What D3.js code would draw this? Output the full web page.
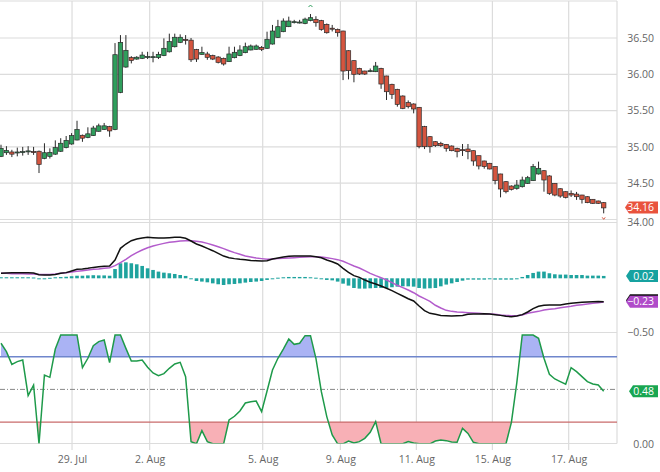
<!DOCTYPE html>
<html><head><meta charset="utf-8">
<script src="https://cdn.jsdelivr.net/npm/d3@7"></script>
<style>
body{margin:0;background:#fff}
svg{display:block}
text{font-family:"Open Sans",sans-serif}
</style>
</head><body>
<svg id="c" width="660" height="472"></svg>
<script>
// ---------- data ----------
const opens = [34.87,34.92,34.93,34.92,34.93,34.94,34.935,34.94,34.84,34.87,
 34.90,34.94,34.99,35.04,35.095,35.16,35.13,35.155,35.215,35.24,
 35.28,35.24,35.75,36.10,36.23,36.21,36.22,36.24,36.243,36.23,
 36.257,36.31,36.38,36.44,36.48,36.47,36.34,36.275,36.28,36.257,
 36.238,36.22,36.174,36.229,36.257,36.298,36.335,36.344,36.37,36.358,
 36.417,36.509,36.587,36.656,36.72,36.72,36.70,36.74,36.757,36.739,
 36.688,36.635,36.619,36.596,36.325,36.188,36.082,36.045,36.05,36.036,
 36.082,35.977,35.862,35.793,35.701,35.61,35.591,35.545,35.279,35.141,
 35.072,35.049,35.035,35.012,34.98,34.962,34.971,34.948,34.879,34.806,
 34.774,34.728,34.627,34.521,34.461,34.429,34.452,34.498,34.535,34.627,
 34.672,34.60,34.498,34.424,34.383,34.36,34.35,34.337,34.314,34.278,
 34.255,34.232];
const highs = [35.03,35.01,34.96,34.99,35.00,35.01,35.00,34.95,35.05,34.98,
 35.09,35.12,35.15,35.19,35.36,35.17,35.27,35.29,35.32,35.33,
 35.29,36.43,36.54,36.54,36.25,36.25,36.31,36.31,36.31,36.31,
 36.495,36.56,36.56,36.55,36.54,36.50,36.35,36.38,36.31,36.27,
 36.25,36.23,36.38,36.38,36.40,36.436,36.41,36.41,36.39,36.587,
 36.68,36.75,36.77,36.794,36.75,36.75,36.78,36.83,36.80,36.75,
 36.70,36.68,36.63,36.60,36.33,36.19,36.09,36.05,36.08,36.17,
 36.09,35.98,35.87,35.80,35.71,35.64,35.60,35.55,35.29,35.15,
 35.08,35.07,35.04,35.02,34.99,35.04,35.04,34.95,34.88,34.81,
 34.78,34.73,34.63,34.53,34.47,34.544,34.59,34.60,34.765,34.797,
 34.68,34.61,34.50,34.43,34.39,34.40,34.38,34.34,34.32,34.28,
 34.26,34.24];
const lows = [34.86,34.89,34.86,34.87,34.88,34.89,34.89,34.64,34.83,34.84,
 34.89,34.93,34.98,35.03,35.09,35.07,35.12,35.15,35.21,35.235,
 35.14,35.23,35.74,36.09,36.15,36.20,36.21,36.21,36.165,36.21,
 36.25,36.30,36.37,36.43,36.41,36.17,36.17,36.27,36.20,36.196,
 36.15,36.12,36.17,36.22,36.25,36.29,36.33,36.34,36.32,36.35,
 36.41,36.50,36.58,36.65,36.70,36.70,36.69,36.73,36.656,36.60,
 36.56,36.59,36.518,35.92,35.93,35.89,35.99,35.99,36.03,36.03,
 35.80,35.646,35.66,35.554,35.52,35.53,35.462,34.98,34.97,34.92,
 35.00,35.00,34.935,34.94,34.856,34.875,34.83,34.74,34.69,34.70,
 34.69,34.484,34.305,34.36,34.40,34.41,34.44,34.49,34.53,34.62,
 34.383,34.34,34.32,34.30,34.29,34.31,34.27,34.22,34.225,34.215,
 34.215,34.085];
const closes = [34.98,34.95,34.90,34.93,34.935,34.945,34.93,34.76,34.92,34.925,
 34.99,35.05,35.09,35.155,35.24,35.12,35.18,35.26,35.29,35.29,
 35.22,36.27,36.44,36.33,36.19,36.235,36.265,36.245,36.243,36.275,
 36.358,36.45,36.51,36.51,36.475,36.20,36.21,36.30,36.234,36.21,
 36.165,36.142,36.28,36.303,36.335,36.38,36.39,36.39,36.344,36.482,
 36.596,36.656,36.734,36.734,36.725,36.72,36.76,36.78,36.711,36.619,
 36.573,36.63,36.573,36.045,36.05,36.0,36.004,36.004,36.05,36.114,
 35.866,35.76,35.724,35.586,35.531,35.554,35.522,35.003,35.003,35.003,
 35.017,35.017,34.98,34.948,34.934,34.96,34.934,34.806,34.737,34.728,
 34.696,34.535,34.42,34.383,34.415,34.475,34.544,34.576,34.728,34.705,
 34.544,34.36,34.337,34.323,34.305,34.337,34.314,34.278,34.232,34.223,
 34.223,34.16];
const macdLine = [0.048,0.051,0.055,0.055,0.055,0.055,0.051,0.035,0.032,0.032,
 0.038,0.048,0.055,0.071,0.087,0.090,0.097,0.106,0.113,0.116,
 0.119,0.178,0.291,0.333,0.365,0.382,0.391,0.398,0.394,0.391,
 0.391,0.394,0.398,0.398,0.388,0.362,0.333,0.314,0.291,0.268,
 0.242,0.216,0.200,0.191,0.184,0.181,0.174,0.171,0.168,0.171,
 0.187,0.197,0.207,0.213,0.216,0.216,0.216,0.216,0.210,0.200,
 0.178,0.161,0.139,0.097,0.058,0.026,0.009,-0.017,-0.039,-0.055,
 -0.075,-0.097,-0.120,-0.146,-0.172,-0.198,-0.220,-0.269,-0.314,-0.340,
 -0.350,-0.360,-0.363,-0.366,-0.363,-0.360,-0.350,-0.347,-0.347,-0.343,
 -0.347,-0.353,-0.360,-0.369,-0.373,-0.366,-0.353,-0.327,-0.295,-0.272,
 -0.262,-0.259,-0.259,-0.259,-0.250,-0.243,-0.237,-0.233,-0.230,-0.227,
 -0.225,-0.228];
const signalLine = [0.048,0.048,0.045,0.045,0.045,0.042,0.042,0.038,0.038,0.038,
 0.042,0.048,0.055,0.061,0.068,0.074,0.081,0.087,0.090,0.097,
 0.103,0.123,0.152,0.184,0.220,0.249,0.275,0.297,0.314,0.327,
 0.339,0.349,0.356,0.362,0.365,0.365,0.359,0.352,0.339,0.323,
 0.307,0.288,0.268,0.249,0.233,0.216,0.207,0.197,0.191,0.184,
 0.187,0.191,0.194,0.197,0.200,0.204,0.207,0.210,0.210,0.207,
 0.200,0.191,0.181,0.165,0.142,0.119,0.100,0.074,0.048,0.026,
 0.006,-0.017,-0.042,-0.068,-0.091,-0.114,-0.140,-0.172,-0.198,-0.224,
 -0.262,-0.288,-0.311,-0.321,-0.327,-0.330,-0.334,-0.337,-0.340,-0.343,
 -0.347,-0.350,-0.356,-0.360,-0.363,-0.363,-0.356,-0.340,-0.330,-0.321,
 -0.308,-0.301,-0.295,-0.285,-0.279,-0.272,-0.262,-0.256,-0.250,-0.243,
 -0.237,-0.230];
const histogram = [0.01,0.01,0.01,0.01,0.01,0.01,0.008,-0.005,-0.003,0.005,
 0.01,0.012,0.015,0.02,0.025,0.025,0.028,0.03,0.028,0.028,
 0.025,0.09,0.146,0.155,0.146,0.136,0.12,0.097,0.081,0.065,
 0.055,0.049,0.042,0.032,0.023,-0.003,-0.026,-0.032,-0.039,-0.049,
 -0.058,-0.065,-0.058,-0.055,-0.049,-0.042,-0.036,-0.032,-0.026,-0.016,
 -0.006,0.006,0.01,0.013,0.013,0.013,0.013,0.01,0.006,-0.003,
 -0.016,-0.02,-0.032,-0.052,-0.071,-0.094,-0.1,-0.1,-0.097,-0.094,
 -0.094,-0.094,-0.087,-0.081,-0.078,-0.078,-0.081,-0.094,-0.1,-0.097,
 -0.094,-0.078,-0.061,-0.049,-0.036,-0.023,-0.013,-0.013,-0.013,-0.013,
 -0.003,-0.013,-0.013,-0.013,-0.013,-0.003,0.013,0.032,0.052,0.065,
 0.065,0.049,0.039,0.036,0.036,0.032,0.032,0.032,0.026,0.026,
 0.026,0.023];
const stochastic = [0.924,0.847,0.73,0.755,0.77,0.443,0.54,0.0,0.632,0.611,
 0.871,1.0,1.0,1.0,1.0,0.70,0.786,0.902,0.939,0.954,
 0.746,1.0,1.0,0.877,0.761,0.761,0.77,0.703,0.651,0.626,
 0.645,0.694,0.734,0.749,0.617,0.02,0.0,0.121,0.02,0.0,
 0.0,0.0,0.219,0.253,0.302,0.375,0.387,0.393,0.295,0.485,
 0.678,0.786,0.871,0.963,0.914,0.924,0.994,0.994,0.786,0.479,
 0.25,0.081,0.0,0.0,0.026,0.008,0.02,0.05,0.105,0.204,
 0.0,0.0,0.0,0.0,0.0,0.02,0.008,0.0,0.0,0.0,
 0.026,0.035,0.029,0.017,0.014,0.142,0.096,0.014,0.0,0.0,
 0.0,0.0,0.0,0.0,0.197,0.562,1.0,1.0,1.0,0.97,
 0.786,0.639,0.596,0.571,0.547,0.70,0.663,0.617,0.571,0.55,
 0.541,0.482];
const tickIndex = [13.08, 27.38, 48.2, 62.5, 76.5, 90.5, 104.55];
const tickLabels = ["29. Jul","2. Aug","5. Aug","9. Aug","11. Aug","15. Aug","17. Aug"];
const priceTicks = [34.0, 34.5, 35.0, 35.5, 36.0, 36.5];
const macdTicks = [-0.5];
const stochTicks = [0.0];
const stochLevels = {upper: 0.8, middle: 0.5, lower: 0.2};

// ---------- layout ----------
const svg = d3.select("#c");
const N = opens.length;
const plotRight = 617;
const x = d3.scaleLinear().domain([0, N - 1]).range([1, 603.7]);
const yP = d3.scaleLinear().domain([34, 36.5]).range([219.5, 38]);
const yM = d3.scaleLinear().domain([-0.5, 0]).range([329.8, 278.3]);
const yS = d3.scaleLinear().domain([0, 1]).range([443.8, 335]);
const grid = "#dcdcdc";
const fmt = d3.format(".2f");

const defs = svg.append("defs");
function clip(id, y0, y1) {
  defs.append("clipPath").attr("id", id).append("rect")
    .attr("x", 0).attr("y", y0).attr("width", plotRight).attr("height", y1 - y0);
}
clip("cp", 1, 219.5);
clip("cm", 222.5, 332.5);
clip("cs", 332.5, 443.5);
clip("cs_hi", 332.5, yS(stochLevels.upper));
clip("cs_lo", yS(stochLevels.lower), 443.5);

// gridlines
const gg = svg.append("g");
gg.selectAll("line.v").data(tickIndex).join("line")
  .attr("x1", d => x(d)).attr("x2", d => x(d)).attr("y1", 1).attr("y2", 450)
  .attr("stroke", grid).attr("stroke-width", 1.2);
gg.selectAll("line.h").data(priceTicks).join("line")
  .attr("x1", 0).attr("x2", plotRight).attr("y1", d => yP(d)).attr("y2", d => yP(d))
  .attr("stroke", grid).attr("stroke-width", 1.2);
[1, 222.5, 332.5, 443.5].forEach(y => gg.append("line")
  .attr("x1", 0).attr("x2", plotRight).attr("y1", y).attr("y2", y)
  .attr("stroke", grid).attr("stroke-width", 1.2));
gg.append("line").attr("x1", plotRight).attr("x2", plotRight).attr("y1", 1).attr("y2", 443.5)
  .attr("stroke", grid).attr("stroke-width", 1.2);

// ---------- candles ----------
const cg = svg.append("g").attr("clip-path", "url(#cp)");
const idx = d3.range(N);
cg.selectAll("line.w").data(idx).join("line")
  .attr("x1", i => x(i)).attr("x2", i => x(i))
  .attr("y1", i => yP(highs[i])).attr("y2", i => yP(lows[i]))
  .attr("stroke", "#2a2a2a").attr("stroke-width", 1);
cg.selectAll("rect.b").data(idx).join("rect")
  .attr("x", i => x(i) - 2.2).attr("width", 4.4)
  .attr("y", i => yP(Math.max(opens[i], closes[i])))
  .attr("height", i => Math.max(1, Math.abs(yP(opens[i]) - yP(closes[i]))))
  .attr("fill", i => closes[i] >= opens[i] ? "#2f9e5c" : "#d5553f")
  .attr("stroke", "#2a2a2a").attr("stroke-width", 0.7);

// max / min markers
const iMax = d3.maxIndex(highs), iMin = d3.minIndex(lows);
svg.append("path")
  .attr("d", `M${x(iMax) - 2},${yP(highs[iMax]) - 7} L${x(iMax)},${yP(highs[iMax]) - 9} L${x(iMax) + 2},${yP(highs[iMax]) - 7}`)
  .attr("fill", "none").attr("stroke", "#2f9e5c").attr("stroke-width", 1);
svg.append("path")
  .attr("d", `M${x(iMin) - 1.5},${yP(lows[iMin]) + 4} L${x(iMin)},${yP(lows[iMin]) + 6} L${x(iMin) + 1.5},${yP(lows[iMin]) + 4}`)
  .attr("fill", "none").attr("stroke", "#d5553f").attr("stroke-width", 1);

// ---------- MACD ----------
const mg = svg.append("g").attr("clip-path", "url(#cm)");
mg.selectAll("rect.h").data(idx).join("rect")
  .attr("x", i => x(i) - 1.8).attr("width", 3.6)
  .attr("y", i => Math.min(yM(0), yM(histogram[i])))
  .attr("height", i => Math.max(1, Math.abs(yM(histogram[i]) - yM(0))))
  .attr("fill", "#1ea39e");
const lineM = arr => d3.line().x((d, i) => x(i)).y(d => yM(d))(arr);
mg.append("path").attr("d", lineM(signalLine)).attr("fill", "none")
  .attr("stroke", "#b35ccc").attr("stroke-width", 1.5);
mg.append("path").attr("d", lineM(macdLine)).attr("fill", "none")
  .attr("stroke", "#111").attr("stroke-width", 1.5);

// ---------- Stochastic ----------
const sg = svg.append("g").attr("clip-path", "url(#cs)");
const areaHi = d3.area().x((d, i) => x(i)).y0(yS(stochLevels.upper)).y1(d => yS(d));
const areaLo = d3.area().x((d, i) => x(i)).y0(yS(stochLevels.lower)).y1(d => yS(d));
sg.append("path").attr("d", areaHi(stochastic)).attr("fill", "#aab3f4").attr("clip-path", "url(#cs_hi)");
sg.append("path").attr("d", areaLo(stochastic)).attr("fill", "#f8b0b6").attr("clip-path", "url(#cs_lo)");
sg.append("line").attr("x1", 0).attr("x2", plotRight)
  .attr("y1", yS(stochLevels.upper)).attr("y2", yS(stochLevels.upper))
  .attr("stroke", "#6f86cc").attr("stroke-width", 1.3);
sg.append("line").attr("x1", 0).attr("x2", plotRight)
  .attr("y1", yS(stochLevels.lower)).attr("y2", yS(stochLevels.lower))
  .attr("stroke", "#c96b6b").attr("stroke-width", 1.3);
sg.append("line").attr("x1", 0).attr("x2", plotRight)
  .attr("y1", yS(stochLevels.middle)).attr("y2", yS(stochLevels.middle))
  .attr("stroke", "#888").attr("stroke-width", 1).attr("stroke-dasharray", "5,2,1,2");
sg.append("path").attr("d", d3.line().x((d, i) => x(i)).y(d => yS(d))(stochastic))
  .attr("fill", "none").attr("stroke", "#1e9a4a").attr("stroke-width", 1.5);

// ---------- axes ----------
function styleAxis(g) {
  g.select(".domain").remove();
  g.selectAll("line").remove();
  g.selectAll("text").attr("fill", "#666").style("font-size", "10.5px")
    .style("font-family", '"Open Sans",sans-serif');
}
svg.append("g").attr("transform", "translate(654,0)")
  .call(d3.axisRight(yP).tickValues(priceTicks).tickFormat(fmt).tickSize(0).tickPadding(0))
  .call(styleAxis).selectAll("text").attr("text-anchor", "end").attr("x", 0)
  .attr("dy", d => d === priceTicks[0] ? "0.55em" : "0.32em");
svg.append("g").attr("transform", "translate(654,2.5)")
  .call(d3.axisRight(yM).tickValues(macdTicks).tickFormat(fmt).tickSize(0).tickPadding(0))
  .call(styleAxis).selectAll("text").attr("text-anchor", "end").attr("x", 0);
svg.append("g").attr("transform", "translate(654,0)")
  .call(d3.axisRight(yS).tickValues(stochTicks).tickFormat(fmt).tickSize(0).tickPadding(0))
  .call(styleAxis).selectAll("text").attr("text-anchor", "end").attr("x", 0);
svg.append("g").attr("transform", "translate(0,450)")
  .call(d3.axisBottom(x).tickValues(tickIndex).tickFormat((d, i) => tickLabels[i]).tickSize(0).tickPadding(6))
  .call(styleAxis);

// ---------- value badges ----------
function badge(yc, fill, label, x0) {
  const g = svg.append("g");
  g.append("path")
    .attr("d", `M${x0},${yc} L${x0 + 4},${yc - 6} H658 V${yc + 6} H${x0 + 4} Z`)
    .attr("fill", fill);
  g.append("text").attr("x", 654).attr("y", yc).attr("dy", "0.35em")
    .attr("text-anchor", "end").attr("fill", "#fff").style("font-size", "10.5px").text(label);
}
const last = N - 1;
badge(yP(closes[last]) - 0.5, "#e9533d", fmt(closes[last]), 625);
badge(yM(histogram[last]), "#16a2a0", fmt(histogram[last]), 626);
badge(yM(macdLine[last]) - 1.5, "#111", "", 626);
badge(yM(macdLine[last]), "#b04bc9", fmt(macdLine[last]), 626);
badge(yS(stochastic[last]), "#19a651", fmt(stochastic[last]), 629);
</script>
</body></html>
